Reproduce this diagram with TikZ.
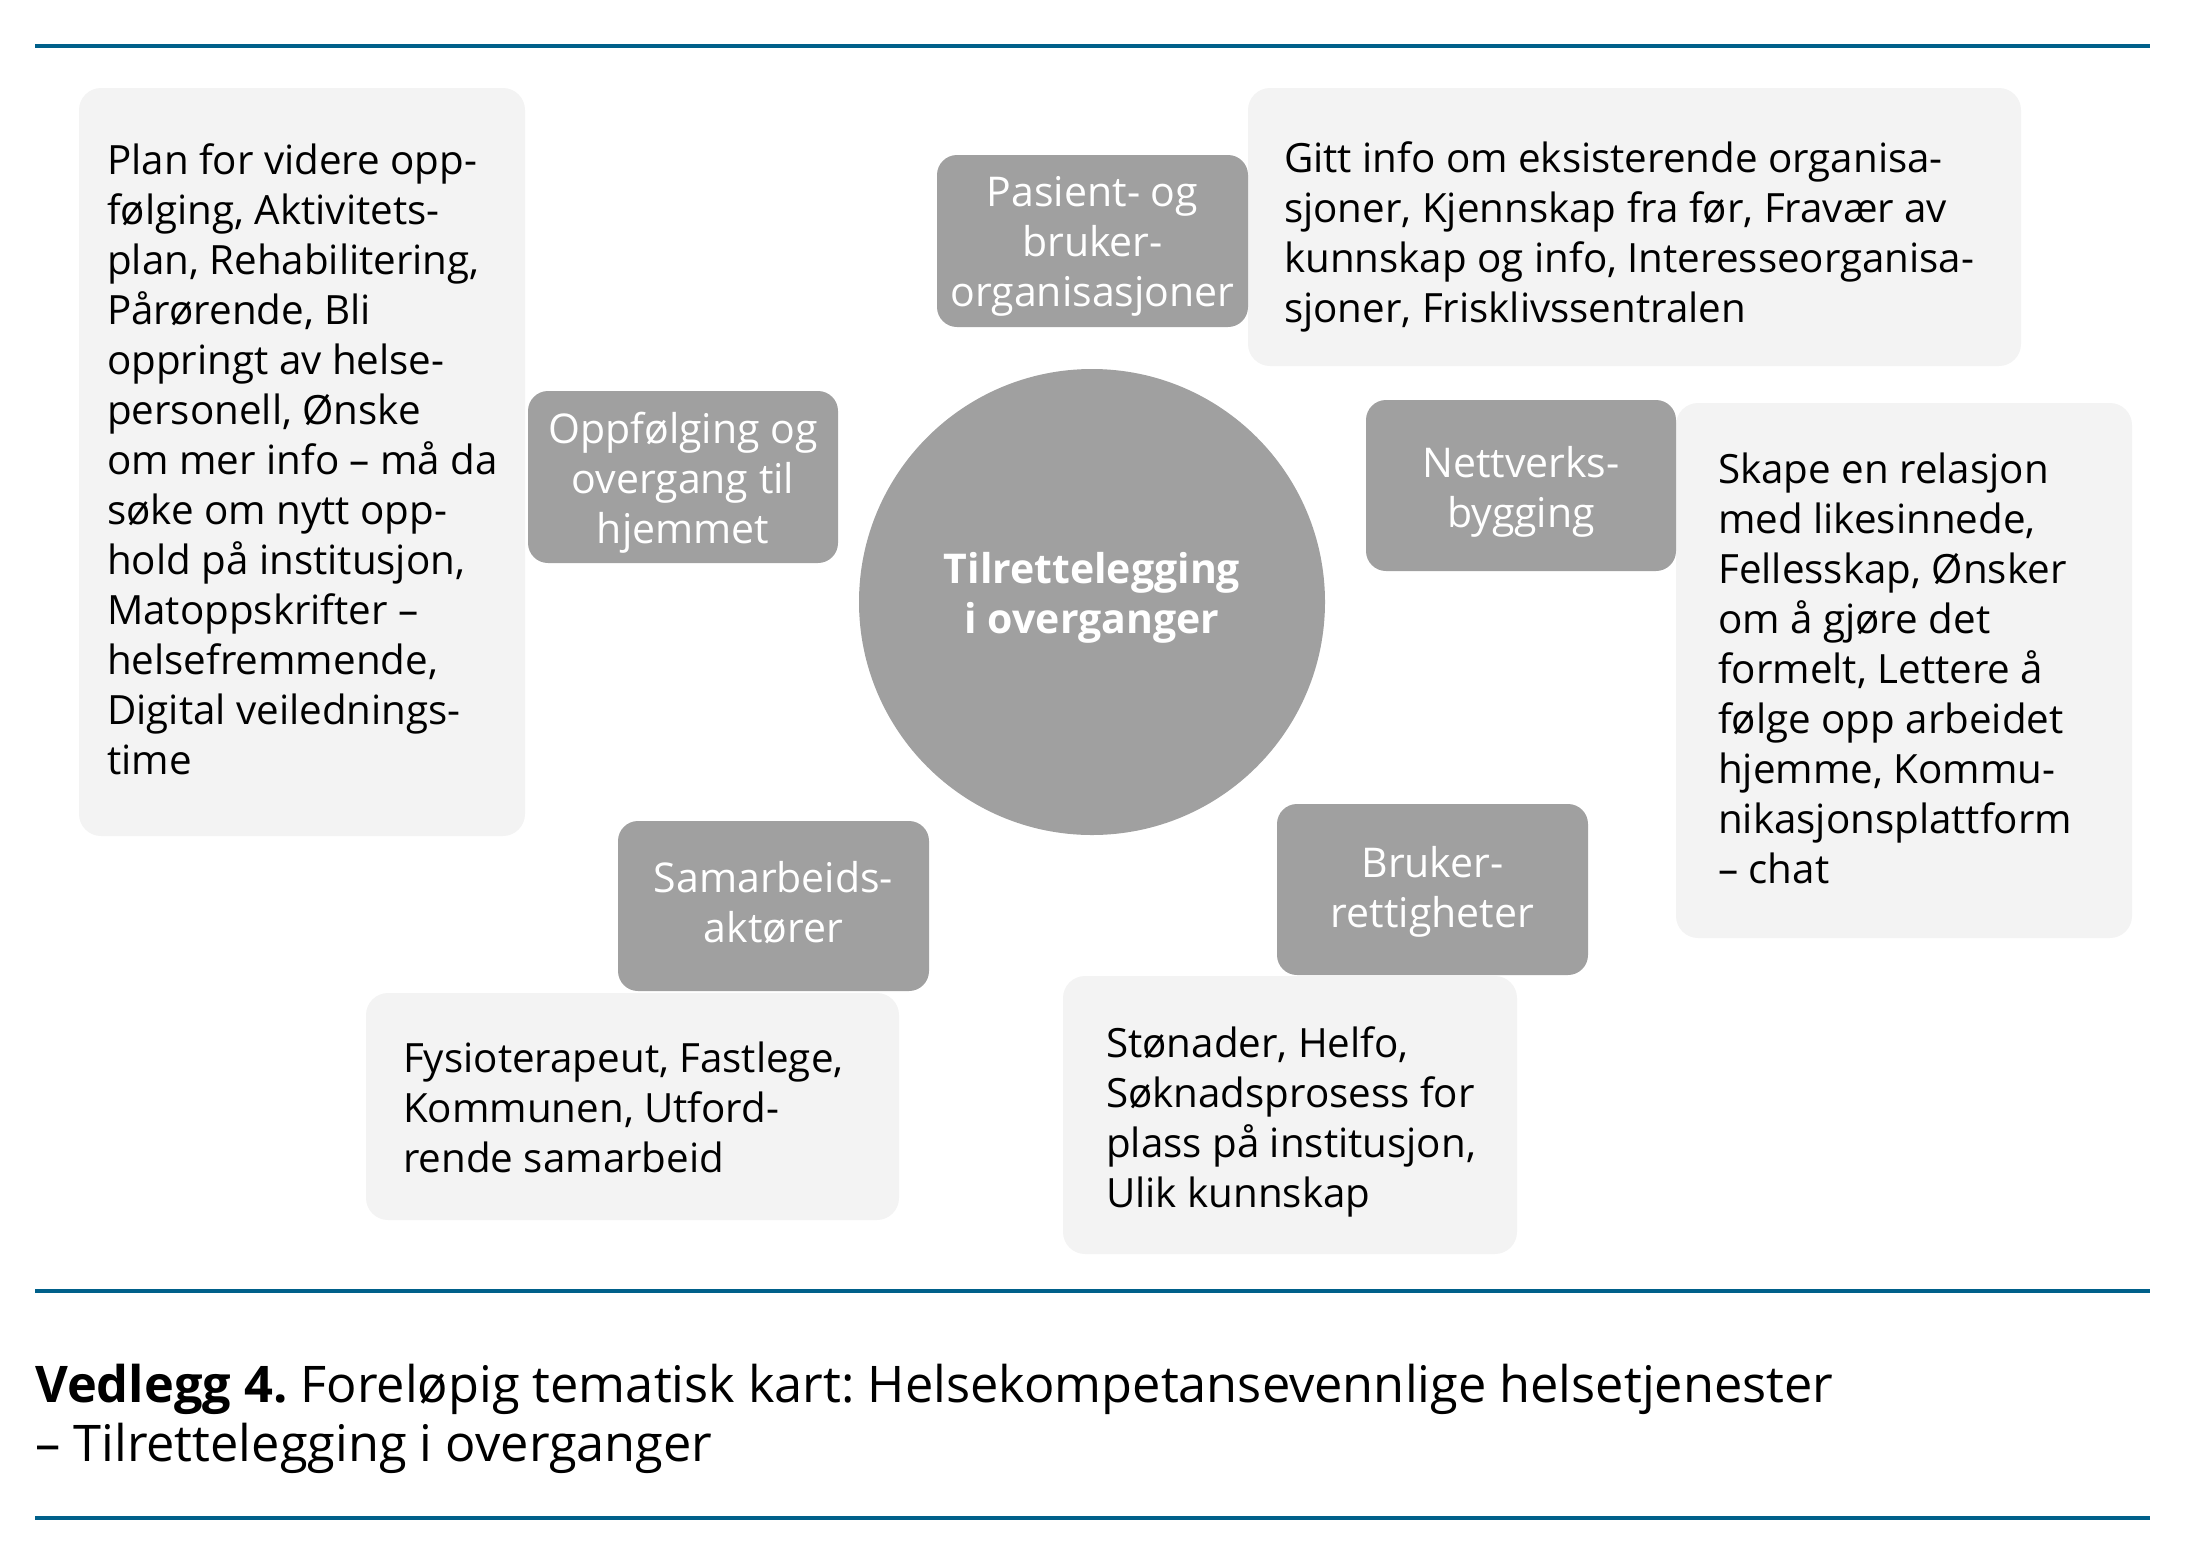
\documentclass[tikz,border=0pt]{standalone}
\usepackage{fontspec}
\setmainfont{Open Sans}
\frenchspacing
\definecolor{darkbox}{RGB}{160,160,160}
\definecolor{lightbox}{RGB}{243,243,243}
\definecolor{rulecol}{RGB}{0,96,138}
\newcommand\bodysize{\fontsize{40.3}{50}\selectfont}
\newcommand\darksize{\fontsize{41}{50}\selectfont}
\newcommand\capsize{\fontsize{50.5}{59}\selectfont}
\newcommand\lefttext[1]{\parbox[t]{900pt}{\raggedright\frenchspacing #1}}
\newcommand\midtext[1]{\parbox[t]{500pt}{\centering #1}}
\begin{document}
\begin{tikzpicture}[x=1pt,y=-1pt,
  lightbg/.style={rectangle, fill=lightbox, rounded corners=22pt, inner sep=0pt, outer sep=0pt},
  darkbg/.style={rectangle, fill=darkbox, rounded corners=20pt, inner sep=0pt, outer sep=0pt},
  bodytext/.style={anchor=base west, inner sep=0pt, font=\bodysize, text=black},
  darktext/.style={anchor=base, inner sep=0pt, font=\darksize, text=white},
  hubtext/.style={anchor=base, inner sep=0pt, font=\darksize\bfseries, text=white},
  captext/.style={anchor=base west, inner sep=0pt, font=\capsize, text=black},
  rulestyle/.style={draw=rulecol, line width=4pt}]
\useasboundingbox (0,0) rectangle (2185,1561);
% rules
\coordinate (r1a) at (35,46);   \coordinate (r1b) at (2150,46);
\coordinate (r2a) at (35,1291); \coordinate (r2b) at (2150,1291);
\coordinate (r3a) at (35,1518); \coordinate (r3b) at (2150,1518);
\draw[rulestyle] (r1a) -- (r1b);
\draw[rulestyle] (r2a) -- (r2b);
\draw[rulestyle] (r3a) -- (r3b);
% light boxes
\node[lightbg, minimum width=446pt, minimum height=748pt] (planbox) at (302,462) {};
\node[lightbg, minimum width=773pt, minimum height=278pt] (infobox) at (1634.5,227) {};
\node[lightbg, minimum width=456pt, minimum height=535pt] (relbox) at (1904,670.5) {};
\node[lightbg, minimum width=533pt, minimum height=227pt] (fysbox) at (632.5,1106.5) {};
\node[lightbg, minimum width=454pt, minimum height=278pt] (stobox) at (1290,1115) {};
% dark boxes
\node[darkbg, minimum width=311pt, minimum height=172pt] (pasbox) at (1092.5,241) {};
\node[darkbg, minimum width=310pt, minimum height=172pt] (oppbox) at (683,477) {};
\node[darkbg, minimum width=310pt, minimum height=171pt] (netbox) at (1521,485.5) {};
\node[darkbg, minimum width=311pt, minimum height=170pt] (sambox) at (773.5,906) {};
\node[darkbg, minimum width=311pt, minimum height=171pt] (brubox) at (1432.5,889.5) {};
% hub
\node[circle, fill=darkbox, minimum size=466pt, inner sep=0pt] (hub) at (1092,602) {};
\node[hubtext] (hubtxt) at (1092,583) {\midtext{Tilrettelegging\\i overganger}};
% dark box labels
\node[darktext] (pastxt) at (1092.5,206) {\midtext{Pasient- og\\bruker-\\organisasjoner}};
\node[darktext] (opptxt) at (683,443) {\midtext{Oppfølging og\\overgang til\\hjemmet}};
\node[darktext] (nettxt) at (1521,477) {\midtext{Nettverks-\\bygging}};
\node[darktext] (samtxt) at (773.5,892) {\midtext{Samarbeids-\\aktører}};
\node[darktext] (brutxt) at (1432.5,877) {\midtext{Bruker-\\rettigheter}};
% light box texts
\node[bodytext] (plantxt) at (107,174) {\lefttext{Plan for videre opp-\\følging, Aktivitets-\\plan, Rehabilitering,\\Pårørende, Bli\\oppringt av helse-\\personell, Ønske\\om mer info – må da\\søke om nytt opp-\\hold på institusjon,\\Matoppskrifter –\\helsefremmende,\\Digital veilednings-\\time}};
\node[bodytext] (infotxt) at (1284,172) {\lefttext{Gitt info om eksisterende organisa-\\sjoner, Kjennskap fra før, Fravær av\\kunnskap og info, Interesseorganisa-\\sjoner, Frisklivssentralen}};
\node[bodytext] (reltxt) at (1718,483) {\lefttext{Skape en relasjon\\med likesinnede,\\Fellesskap, Ønsker\\om å gjøre det\\formelt, Lettere å\\følge opp arbeidet\\hjemme, Kommu-\\nikasjonsplattform\\– chat}};
\node[bodytext] (fystxt) at (403,1072) {\lefttext{Fysioterapeut, Fastlege,\\Kommunen, Utford-\\rende samarbeid}};
\node[bodytext] (stotxt) at (1106,1057) {\lefttext{Stønader, Helfo,\\Søknadsprosess for\\plass på institusjon,\\Ulik kunnskap}};
% caption
\node[captext] (caption) at (35,1402) {\parbox[t]{2100pt}{\raggedright\frenchspacing\textbf{Vedlegg 4.} Foreløpig tematisk kart: Helsekompetansevennlige helsetjenester\\– Tilrettelegging i overganger}};
\end{tikzpicture}
\end{document}
